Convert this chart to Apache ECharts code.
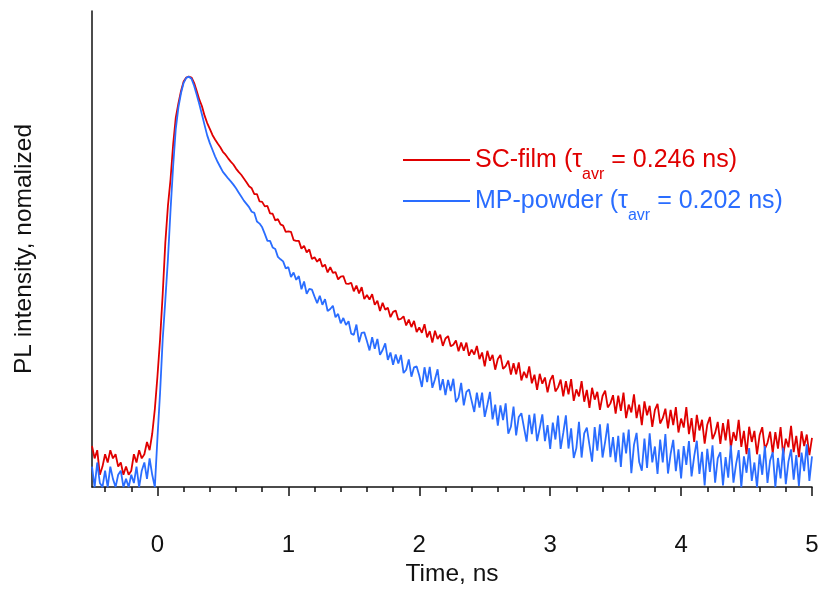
<!DOCTYPE html>
<html lang="en">
<head>
  <meta charset="UTF-8">
  <script type="text/javascript" src="https://cdn.jsdelivr.net/npm/echarts/dist/echarts.min.js"></script>
  <title>PL decay</title>
  <style type="text/css">
    * {
      margin: 0;
      padding: 0;
    }

    html, body {
      width: 100%;
      height: 100%;
      background-color: #fff;
    }

    #chart {
      width: 822px;
      height: 592px;
    }
  </style>
</head>

<body>
<div id="chart"></div>
</body>
<script type="text/javascript">
  // time base: bins of 0.02 ns starting at -0.5 ns
  var T_START = -0.5
  var T_STEP = 0.02

  var seriesNames = ['SC-film', 'MP-powder']
  var tauAvr = ['0.246', '0.202']
  var majorTicks = [0, 1, 2, 3, 4, 5]

  // SC-film, normalized PL intensity
  var scFilm = [
    0.10, 0.07, 0.09, 0.03, 0.05, 0.08, 0.06, 0.09, 0.07, 0.08, 0.05, 0.06, 0.03, 0.05, 0.03, 0.04, 0.08, 0.06, 0.09, 0.07, 0.08, 0.11, 0.09, 0.13, 0.19,
    0.27, 0.36, 0.47, 0.595, 0.685, 0.75, 0.835, 0.90, 0.935, 0.965, 0.988, 0.998, 1.0, 0.998, 0.985, 0.965, 0.944, 0.928, 0.905, 0.887, 0.873, 0.858,
    0.847, 0.837, 0.828, 0.817, 0.810, 0.801, 0.793, 0.786, 0.776, 0.768, 0.761, 0.752, 0.743, 0.733,
    0.728, 0.714, 0.714, 0.696, 0.695, 0.684, 0.685, 0.667, 0.666, 0.650, 0.653, 0.640, 0.637, 0.622,
    0.623, 0.622, 0.602, 0.600, 0.600, 0.581, 0.588, 0.572, 0.579, 0.556, 0.560, 0.549, 0.557, 0.537, 0.542, 0.523, 0.536, 0.522, 0.524, 0.506, 0.513, 0.514, 0.496, 0.495, 0.498,
    0.477, 0.491, 0.472, 0.487, 0.458, 0.468, 0.457, 0.470, 0.444, 0.454, 0.429, 0.449, 0.432, 0.437, 0.414, 0.427, 0.430, 0.408, 0.410, 0.416, 0.394, 0.408, 0.390, 0.405, 0.378,
    0.389, 0.376, 0.397, 0.365, 0.380, 0.352, 0.381, 0.361, 0.371, 0.344, 0.362, 0.368, 0.343, 0.347, 0.357, 0.331, 0.352, 0.332, 0.352, 0.320, 0.335, 0.323, 0.344, 0.312, 0.328,
    0.294, 0.332, 0.308, 0.322, 0.286, 0.312, 0.322, 0.288, 0.295, 0.308, 0.274, 0.302, 0.275, 0.304, 0.260, 0.281, 0.266, 0.294, 0.253, 0.274, 0.237, 0.276, 0.252, 0.267, 0.231,
    0.260, 0.273, 0.233, 0.243, 0.262, 0.221, 0.258, 0.226, 0.263, 0.210, 0.238, 0.221, 0.258, 0.208, 0.237, 0.193, 0.242, 0.213, 0.232, 0.188, 0.222, 0.235, 0.194, 0.204, 0.224,
    0.179, 0.223, 0.186, 0.230, 0.168, 0.201, 0.182, 0.226, 0.168, 0.201, 0.151, 0.209, 0.175, 0.198, 0.147, 0.188, 0.203, 0.155, 0.168, 0.191, 0.143, 0.188, 0.151, 0.195, 0.133,
    0.167, 0.145, 0.195, 0.129, 0.168, 0.110, 0.176, 0.138, 0.164, 0.106, 0.152, 0.171, 0.117, 0.132, 0.159, 0.105, 0.156, 0.114, 0.165, 0.096, 0.134, 0.113, 0.164, 0.098, 0.137,
    0.080, 0.147, 0.110, 0.137, 0.080, 0.127, 0.146, 0.093, 0.108, 0.135, 0.083, 0.134, 0.094, 0.146, 0.078, 0.118, 0.097, 0.149, 0.085, 0.125, 0.073, 0.136, 0.100, 0.128, 0.078, 0.120
  ]

  // MP-powder, normalized PL intensity
  var mpPowder = [
    0.05, 0.00, 0.06, 0.01, 0.00, 0.04, 0.00, 0.05, 0.02, 0.00, 0.03, 0.04, 0.00, 0.02, 0.00, 0.03, 0.01, 0.05, 0.00, 0.04, 0.06, 0.02, 0.07, 0.03, 0.00,
    0.12, 0.23, 0.36, 0.455, 0.555, 0.675, 0.783, 0.873, 0.925, 0.96, 0.985, 0.997, 1.0, 0.995, 0.978, 0.956, 0.933, 0.908, 0.882, 0.857, 0.838, 0.822,
    0.806, 0.792, 0.780, 0.768, 0.760, 0.752, 0.745, 0.737, 0.728, 0.718, 0.708, 0.698, 0.690, 0.682,
    0.671, 0.668, 0.647, 0.642, 0.633, 0.617, 0.600, 0.600, 0.584, 0.580, 0.561, 0.555, 0.550, 0.533,
    0.536, 0.512, 0.523, 0.505, 0.514, 0.482, 0.501, 0.471, 0.483, 0.481, 0.464, 0.448, 0.466, 0.444, 0.458, 0.429, 0.434, 0.442, 0.414, 0.422, 0.399, 0.412, 0.395, 0.404, 0.374,
    0.371, 0.396, 0.353, 0.376, 0.377, 0.356, 0.333, 0.365, 0.337, 0.361, 0.322, 0.334, 0.350, 0.310, 0.328, 0.298, 0.323, 0.301, 0.322, 0.278, 0.286, 0.311, 0.269, 0.292, 0.294,
    0.272, 0.244, 0.292, 0.256, 0.293, 0.242, 0.263, 0.287, 0.236, 0.263, 0.224, 0.261, 0.234, 0.264, 0.207, 0.218, 0.254, 0.199, 0.232, 0.238, 0.210, 0.183, 0.230, 0.194, 0.230,
    0.171, 0.200, 0.232, 0.165, 0.201, 0.150, 0.199, 0.163, 0.204, 0.130, 0.147, 0.196, 0.126, 0.171, 0.180, 0.145, 0.111, 0.176, 0.129, 0.179, 0.112, 0.143, 0.177, 0.112, 0.151,
    0.093, 0.157, 0.116, 0.174, 0.093, 0.132, 0.175, 0.094, 0.143, 0.071, 0.095, 0.159, 0.072, 0.131, 0.145, 0.103, 0.062, 0.146, 0.089, 0.153, 0.072, 0.111, 0.155, 0.073, 0.122,
    0.061, 0.125, 0.049, 0.133, 0.082, 0.140, 0.034, 0.103, 0.132, 0.061, 0.040, 0.118, 0.047, 0.131, 0.060, 0.099, 0.032, 0.116, 0.060, 0.129, 0.033, 0.081, 0.115, 0.039, 0.092,
    0.021, 0.100, 0.054, 0.112, 0.026, 0.075, 0.113, 0.032, 0.086, 0.004, 0.093, 0.037, 0.102, 0.011, 0.070, 0.085, 0.004, 0.073, 0.023, 0.102, 0.011, 0.056, 0.090, 0.000, 0.075,
    0.035, 0.095, 0.015, 0.060, 0.000, 0.080, 0.030, 0.100, 0.010, 0.065, 0.085, 0.000, 0.071, 0.021, 0.096, 0.007, 0.062, 0.092, 0.018, 0.078, 0.003, 0.084, 0.039, 0.104, 0.015, 0.075
  ]

  var RED = '#e00000'
  var BLUE = '#2a6dff'
  var FONT = "'Liberation Sans', Arial, sans-serif"

  function toPairs(values) {
    var out = []
    for (var i = 0; i < values.length; i++) {
      var t = Math.round((T_START + i * T_STEP) * 100) / 100
      out.push([t, values[i]])
    }
    return out
  }

  // minor ticks every 0.2 ns between the major ones
  var minorTicks = [-0.4, -0.2]
  majorTicks.slice(0, -1).forEach(function (m) {
    for (var k = 1; k < 5; k++) minorTicks.push(Math.round((m + k * 0.2) * 10) / 10)
  })
  var allTicks = minorTicks.concat(majorTicks).sort(function (a, b) { return a - b })

  var myChart = echarts.init(document.getElementById('chart'))
  var option = {
    animation: false,
    textStyle: {fontFamily: FONT},
    grid: {left: 92, right: 10, top: 11, bottom: 101},
    legend: {
      orient: 'vertical',
      left: 403,
      top: 137,
      padding: 0,
      itemGap: -5,
      itemWidth: 67,
      itemHeight: 2,
      icon: 'rect',
      data: seriesNames,
      formatter: function (name) {
        var i = seriesNames.indexOf(name)
        var k = i === 0 ? 'r' : 'b'
        return '{' + k + '|' + name + ' (τ}{' + k + 's|avr}{' + k + '| = ' + tauAvr[i] + ' ns)}'
      },
      textStyle: {
        rich: {
          r: {color: RED, fontSize: 25, fontFamily: FONT, lineHeight: 26, verticalAlign: 'middle'},
          rs: {color: RED, fontSize: 16, fontFamily: FONT, lineHeight: 10, padding: [30, 0, 0, 0], verticalAlign: 'middle'},
          b: {color: BLUE, fontSize: 25, fontFamily: FONT, lineHeight: 26, verticalAlign: 'middle'},
          bs: {color: BLUE, fontSize: 16, fontFamily: FONT, lineHeight: 10, padding: [30, 0, 0, 0], verticalAlign: 'middle'}
        }
      }
    },
    xAxis: [
      {
        type: 'value',
        min: -0.5,
        max: 5,
        name: 'Time, ns',
        nameLocation: 'middle',
        nameGap: 71,
        nameTextStyle: {fontSize: 24.5, color: '#111', fontFamily: FONT},
        axisLine: {show: true, onZero: false, lineStyle: {color: '#111', width: 1.5}},
        axisTick: {show: true, customValues: majorTicks, length: 9, lineStyle: {color: '#111', width: 1.5}},
        axisLabel: {customValues: majorTicks, margin: 46, fontSize: 24, color: '#111', fontFamily: FONT},
        splitLine: {show: false}
      },
      {
        // minor ticks only
        type: 'value',
        min: -0.5,
        max: 5,
        position: 'bottom',
        offset: 0,
        axisLine: {show: false, onZero: false},
        axisTick: {show: true, inside: false, customValues: allTicks, length: 5, lineStyle: {color: '#111', width: 1.5}},
        axisLabel: {show: false},
        splitLine: {show: false}
      }
    ],
    yAxis: {
      type: 'value',
      min: 0,
      max: 1.16,
      name: 'PL intensity, nomalized',
      nameLocation: 'middle',
      nameGap: 55,
      nameTextStyle: {fontSize: 24.5, color: '#111', fontFamily: FONT},
      axisLine: {show: true, onZero: false, lineStyle: {color: '#111', width: 1.5}},
      axisTick: {show: false},
      axisLabel: {show: false},
      splitLine: {show: false}
    },
    series: [
      {
        name: seriesNames[0],
        type: 'line',
        showSymbol: false,
        symbol: 'none',
        color: RED,
        lineStyle: {color: RED, width: 1.8},
        data: toPairs(scFilm)
      },
      {
        name: seriesNames[1],
        type: 'line',
        showSymbol: false,
        symbol: 'none',
        color: BLUE,
        lineStyle: {color: BLUE, width: 1.8},
        data: toPairs(mpPowder)
      }
    ]
  }
  myChart.setOption(option)
</script>
</html>
